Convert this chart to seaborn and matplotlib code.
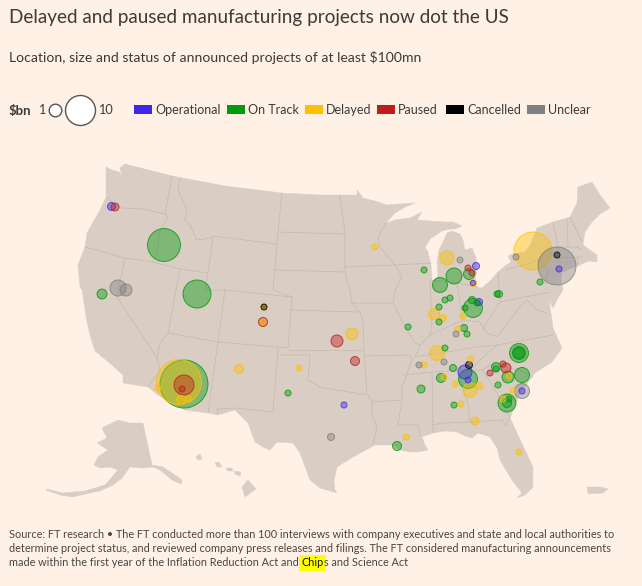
# projects map, FT style
import pandas as pd
import matplotlib
matplotlib.use('Agg')
import matplotlib.pyplot as plt
import seaborn as sns

BG = '#fff1e5'
LAND = '#d9cdc4'
BORDER = '#bcb0a7'
INK = '#3d3a38'
FOOT = '#4a4643'

statuses = ['Operational', 'On Track', 'Delayed', 'Paused', 'Cancelled', 'Unclear']
status_colors = ['#3e28e8', '#009a0b', '#ffc000', '#c01c1c', '#000000', '#808080']

# project locations on the map and size in $bn
op_x = [111.5, 476, 473, 559, 479, 344, 465, 468, 522]
op_y = [206.5, 266, 283, 269, 302, 405, 372, 380, 391]
op_bn = [.7, .55, .3, .4, .55, .4, 2.2, .4, .4]

track_x = [164, 102, 197, 184, 288, 424, 469, 454, 440, 540, 473, 472, 477, 465, 499, 497, 450, 445, 439, 439,
           464, 467, 408, 397, 445, 453, 441, 421, 468, 454, 519, 519, 519, 496, 496, 508, 522, 498, 507, 507, 509]
track_y = [245, 294, 294, 384, 393, 270, 274, 276, 285, 282, 308, 300, 303, 308, 294, 294, 298, 300, 307, 322,
           328, 334, 327, 446, 348, 368, 378, 389, 379, 405, 353, 353, 353, 367, 369, 377, 375, 385, 403, 403, 399]
track_bn = [12, 1.1, 8.7, 25.6, .4, .4, 1.35, 2.85, 2.5, .4, 4, .55, .4, .4, .55, .4, .4, .4, .4, .4,
            .55, .4, .4, .9, .4, .55, .9, .7, 4, .4, 4, 1.9, 1.3, .9, .4, 1.6, 2.5, .4, 3.6, .9, .4]

delayed_x = [264, 263, 179, 181, 189, 158, 239, 299, 375, 447, 473, 533, 434, 443, 463, 458, 352, 406, 437, 424,
             444, 471, 470, 479, 455, 461, 475, 519, 509, 513, 503]
delayed_y = [307, 322, 382, 400, 399, 388, 369, 368, 247, 258, 283, 251, 314, 318, 316, 329, 334, 437, 353, 365,
             377, 359, 390, 386, 384, 404, 421, 452, 376, 391, 399]
delayed_bn = [.4, .4, 22.5, .9, .4, .4, .9, .4, .4, 2.2, .55, 16, 1.35, .55, .4, .4, 1.6, .4, 2.5, .4,
              .4, .4, 2.2, .55, .4, .4, .7, .4, .4, .4, .4]

paused_x = [115, 263, 184, 182, 468, 472, 337, 355, 503, 506, 490]
paused_y = [207, 322, 385, 389, 268, 273, 341, 361, 364, 368, 373]
paused_bn = [.7, .9, 4.45, .4, .4, .4, 1.6, .9, .4, 1.1, .4]

cancelled_x = [264, 557, 469]
cancelled_y = [307, 255, 365]
cancelled_bn = [.4, .4, .55]

unclear_x = [118, 126, 460, 557, 516, 456, 331, 419, 444, 522]
unclear_y = [288, 290, 260, 266, 257, 334, 437, 365, 362, 391]
unclear_bn = [2.85, 1.6, .4, 16, .4, .4, .55, .4, .4, 2.5]

# land shapes
conus = [(106, 167), (112, 170), (119, 172), (122, 177), (120, 168), (125, 164), (172, 176), (225, 186), (282, 193),
         (320, 195), (357, 195), (357, 190), (361, 195), (363, 198), (375, 201), (387, 205), (400, 204), (415, 203),
         (405, 207), (395, 213), (386, 223), (395, 220), (410, 218), (418, 214), (422, 212), (417, 220), (430, 221),
         (445, 222), (453, 222), (462, 226), (455, 229), (450, 229), (442, 231), (436, 235), (431, 238), (425, 247),
         (428, 252), (431, 265), (432, 280), (434, 282), (438, 275), (437, 262), (439, 250), (444, 240), (447, 233),
         (452, 231), (460, 234), (463, 240), (465, 250), (472, 248), (476, 258), (477, 270), (475, 280), (473, 286),
         (482, 288), (490, 281), (498, 272), (505, 266), (511, 262), (508, 256), (512, 254), (525, 252), (530, 245),
         (537, 228), (553, 222), (570, 217), (577, 203), (578, 187), (592, 182), (600, 195), (610, 208), (600, 214),
         (592, 222), (585, 232), (583, 245), (590, 250), (597, 255), (597, 262), (588, 261), (578, 266), (566, 270),
         (562, 272), (561, 280), (563, 290), (558, 298), (553, 308), (549, 300), (552, 320), (553, 328), (562, 348),
         (552, 362), (535, 373), (520, 393), (510, 418), (517, 433), (526, 452), (533, 467), (533, 487), (525, 495),
         (517, 498), (522, 493), (512, 480), (500, 460), (497, 448), (490, 437), (478, 433), (472, 438), (465, 436),
         (457, 432), (445, 431), (433, 433), (422, 437), (425, 445), (428, 450), (418, 452), (410, 452), (400, 450),
         (392, 445), (375, 445), (353, 457), (337, 467), (334, 480), (335, 490), (337, 493), (327, 490), (320, 488),
         (310, 480), (300, 453), (293, 443), (277, 442), (270, 450), (263, 447), (255, 442), (248, 423), (235, 410),
         (218, 415), (208, 413), (185, 410), (158, 395), (148, 387), (123, 383), (123, 375), (112, 365), (95, 351),
         (90, 335), (87, 322), (82, 290), (80, 287), (78, 265), (85, 247), (87, 233), (100, 210), (106, 197)]
long_island = [(561, 272), (573, 265), (578, 263), (566, 271)]
alaska = [(118, 420), (130, 423), (143, 423), (152, 465), (163, 467), (172, 473), (182, 480), (181, 484), (172, 480),
          (160, 470), (153, 467), (142, 468), (130, 467), (122, 478), (113, 485), (100, 491), (90, 493), (72, 497),
          (60, 495), (46, 490), (47, 489), (62, 493), (85, 491), (105, 485), (112, 477), (118, 470), (110, 467),
          (100, 468), (94, 465), (98, 457), (108, 450), (97, 443), (107, 438), (102, 428)]
hawaii = [(242, 487), (248, 480), (256, 489), (245, 497)]
hawaii_small = [[(196, 457), (200, 454), (202, 459), (198, 460)], [(215, 463), (219, 462), (222, 467), (217, 467)],
                [(226, 468), (232, 468), (233, 471), (228, 471)], [(234, 471), (241, 472), (240, 476), (235, 474)]]
puerto_rico = [(587, 487), (600, 487), (608, 489), (603, 493), (588, 494)]

state_lines = [
    [(107, 197), (115, 205), (122, 208), (143, 209), (165, 214)],
    [(172, 176), (165, 214), (168, 218), (160, 230), (157, 253), (153, 261)],
    [(85, 247), (125, 258), (153, 262), (180, 269), (208, 273)],
    [(180, 178), (178, 190), (187, 210), (185, 220), (190, 225), (197, 240), (212, 238)],
    [(213, 236), (277, 244)], [(282, 193), (278, 232), (273, 290)], [(278, 232), (345, 234)],
    [(213, 236), (208, 273), (205, 290), (225, 290)], [(275, 270), (345, 272)],
    [(125, 258), (117, 297), (157, 358), (160, 370), (148, 387)],
    [(180, 269), (168, 333), (160, 343), (157, 358)], [(168, 333), (218, 342), (288, 348)],
    [(225, 290), (218, 342), (208, 413)], [(225, 290), (292, 297), (288, 348)], [(273, 290), (292, 297)],
    [(290, 310), (360, 312)], [(278, 348), (273, 412), (235, 408), (217, 409), (218, 415)],
    [(278, 355), (310, 355), (308, 380), (320, 387), (337, 390), (367, 395)], [(288, 350), (363, 350)],
    [(352, 303), (360, 312), (363, 322), (364, 350), (367, 393), (372, 402), (372, 415), (377, 427), (373, 445)],
    [(364, 356), (410, 355), (412, 360), (402, 387), (402, 400), (372, 402)],
    [(402, 400), (398, 425), (418, 425), (420, 437)],
    [(402, 375), (433, 372), (470, 370), (483, 370)], [(415, 357), (477, 347), (497, 345), (553, 335)],
    [(497, 345), (480, 360), (470, 370)], [(432, 373), (433, 433)], [(458, 372), (468, 405), (470, 422)],
    [(433, 425), (442, 423), (470, 422), (503, 420), (505, 425), (510, 418)], [(483, 370), (497, 393), (510, 418)],
    [(483, 370), (490, 365), (507, 368), (520, 370), (533, 377)],
    [(415, 357), (420, 345), (430, 335), (448, 327), (463, 320), (480, 322), (487, 333), (497, 337), (510, 320),
     (520, 307), (527, 300), (537, 310), (547, 313)],
    [(500, 302), (550, 292)], [(498, 272), (500, 302), (485, 325), (483, 332)],
    [(457, 283), (463, 323)], [(430, 280), (457, 283), (478, 287)], [(430, 280), (432, 323), (430, 337)],
    [(395, 265), (432, 263)], [(386, 223), (378, 237), (380, 247), (395, 265), (402, 277), (395, 290), (393, 303),
                               (403, 323), (415, 343), (420, 345)],
    [(340, 195), (345, 233), (345, 272), (350, 290), (352, 303), (393, 303)], [(345, 267), (395, 265)],
    [(505, 270), (540, 260), (548, 272), (545, 285)], [(553, 222), (558, 247), (560, 263)],
    [(558, 247), (577, 247), (583, 250)], [(567, 220), (568, 247)], [(570, 217), (582, 242)],
    [(559, 258), (583, 257)], [(577, 257), (578, 266)],
]

frames = []
for name, xs, ys, bns in [('Operational', op_x, op_y, op_bn), ('On Track', track_x, track_y, track_bn),
                          ('Delayed', delayed_x, delayed_y, delayed_bn), ('Paused', paused_x, paused_y, paused_bn),
                          ('Cancelled', cancelled_x, cancelled_y, cancelled_bn),
                          ('Unclear', unclear_x, unclear_y, unclear_bn)]:
    frames.append(pd.DataFrame({'x': xs, 'y': ys, 'bn': bns, 'status': name}))
projects = pd.concat(frames).sort_values('bn', ascending=False, kind='stable')

sns.set_theme(style='white', rc={'figure.facecolor': BG, 'axes.facecolor': BG})
plt.rcParams['font.family'] = ['Lato', 'DejaVu Sans']

fig = plt.figure(figsize=(6.42, 5.86), dpi=100)
ax = fig.add_axes([0, 0, 1, 1])
ax.set_xlim(0, 642)
ax.set_ylim(586, 0)
ax.axis('off')

# land
for shape in [conus, long_island, alaska, hawaii, puerto_rico] + hawaii_small:
    ax.fill([p[0] for p in shape], [p[1] for p in shape], color=LAND, lw=0.3, zorder=1)
for line in state_lines:
    ax.plot([p[0] for p in line], [p[1] for p in line], color=BORDER, lw=0.5, ls=(0, (2, 0.8)), zorder=2)

# project bubbles
sns.scatterplot(data=projects, x='x', y='y', hue='status', hue_order=statuses, palette=status_colors,
                size='bn', sizes=(46.6 * 0.3, 46.6 * 25.6), size_norm=(0.3, 25.6), legend=False,
                ax=ax, zorder=3)
bubbles = ax.collections[-1]
edge = bubbles.get_facecolors().copy()
fill = edge.copy()
fill[:, 3] = 0.42
edge[:, 3] = 0.8
bubbles.set_facecolors(fill)
bubbles.set_edgecolors(edge)
bubbles.set_linewidths(0.7)

# headings
ax.text(9, 17, 'Delayed and paused manufacturing projects now dot the US', fontsize=13.55, color=INK,
        va='center', parse_math=False)
ax.text(9, 57, 'Location, size and status of announced projects of at least $100mn', fontsize=10.1, color=INK,
        va='center', parse_math=False)

# size key
ax.text(9, 110.5, '$bn', fontsize=9.5, color=INK, va='center', fontweight='bold', parse_math=False)
ax.text(38, 110.5, '1', fontsize=9.2, color=INK, va='center')
ax.scatter([54.5], [109.5], s=2.07 * 6.3 ** 2, facecolor='white', edgecolor='#555555', lw=1, zorder=4)
ax.scatter([80], [109.5], s=2.07 * 15 ** 2, facecolor='white', edgecolor='#555555', lw=1, zorder=4)
ax.text(98, 110.5, '10', fontsize=9.2, color=INK, va='center')

# status key
swatch_left = [134, 227, 305, 377, 446, 527]
for name, color, left in zip(statuses, status_colors, swatch_left):
    ax.add_patch(plt.Rectangle((left, 105), 18, 9, color=color, lw=0, zorder=4))
    ax.text(left + 21, 110.5, name, fontsize=9.0, color=INK, va='center')

# footer
ax.text(9, 535, 'Source: FT research \u2022 The FT conducted more than 100 interviews with company executives and '
        'state and local authorities to', fontsize=7.83, color=FOOT, va='center')
ax.text(9, 549, 'determine project status, and reviewed company press releases and filings. The FT considered '
        'manufacturing announcements', fontsize=7.85, color=FOOT, va='center')
last = ax.text(9, 563, 'made within the first year of the Inflation Reduction Act and ', fontsize=7.85, color=FOOT,
               va='center')
chip = ax.annotate('Chip', xy=(1, 0), xycoords=last, xytext=(0, 0), textcoords='offset points', fontsize=7.85,
                   color='#111111', va='bottom', bbox=dict(facecolor='#ffff00', edgecolor='none', pad=1.5))
ax.annotate('s and Science Act', xy=(1, 0), xycoords=chip, xytext=(0, 0), textcoords='offset points', fontsize=7.85,
            color=FOOT, va='bottom')

fig.savefig('out.png', dpi=100, facecolor=BG)
